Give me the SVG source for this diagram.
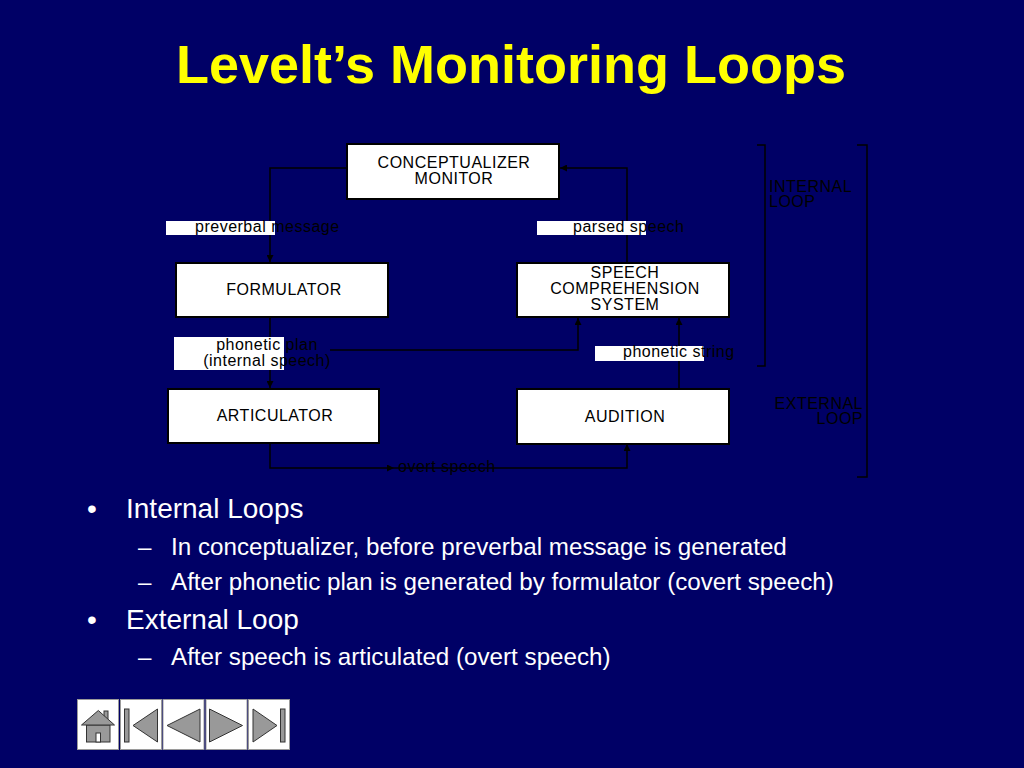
<svg xmlns="http://www.w3.org/2000/svg" width="1024" height="768" viewBox="0 0 1024 768">
<defs>
<style>
.bg{fill:#000066}
.title{font-family:"Liberation Sans",Arial,sans-serif;font-weight:bold;font-size:54px;fill:#ffff00}
.box{fill:#ffffff;stroke:#000000;stroke-width:2}
.bt{font-family:"Liberation Sans",Arial,sans-serif;font-size:16px;letter-spacing:0.5px;fill:#000000;text-anchor:middle}
.lbl{font-family:"Liberation Sans",Arial,sans-serif;font-size:16px;letter-spacing:0.5px;fill:#000000}
.lblbg{fill:#ffffff}
.ln{fill:none;stroke:#000000;stroke-width:1.5}
.br{fill:none;stroke:#000000;stroke-width:1.5}
.b1{font-family:"Liberation Sans",Arial,sans-serif;font-size:28px;fill:#ffffff}
.b2{font-family:"Liberation Sans",Arial,sans-serif;font-size:24.2px;fill:#ffffff}
.nav{fill:#ffffff;stroke:#9a9a9a;stroke-width:1}
.ico{fill:#999999;stroke:#333333;stroke-width:1}
</style>
<marker id="ah" viewBox="0 0 8 8" refX="8" refY="4" markerWidth="7" markerHeight="7" markerUnits="userSpaceOnUse" orient="auto">
<path d="M0,0 L8,4 L0,8 Z" fill="#000000"/>
</marker>
</defs>
<rect class="bg" x="0" y="0" width="1024" height="768"/>
<text class="title" x="511" y="83" text-anchor="middle">Levelt’s Monitoring Loops</text>

<g id="connectors">
<path class="ln" d="M347,168 H270 V262" marker-end="url(#ah)"/>
<path class="ln" d="M627,263 V168 H560" marker-end="url(#ah)"/>
<path class="ln" d="M270,317 V388" marker-end="url(#ah)"/>
<path class="ln" d="M330,350 H578 V318" marker-end="url(#ah)"/>
<path class="ln" d="M679,389 V318" marker-end="url(#ah)"/>
<path class="ln" d="M270,443 V468 H394" marker-end="url(#ah)"/>
<path class="ln" d="M394,468 H627 V444" marker-end="url(#ah)"/>
</g>

<g id="labels">
<rect class="lblbg" x="166" y="221" width="109" height="14"/>
<text class="lbl" x="195" y="232">preverbal message</text>
<rect class="lblbg" x="537" y="221" width="109" height="14"/>
<text class="lbl" x="573" y="232">parsed speech</text>
<rect class="lblbg" x="174" y="337" width="110" height="33"/>
<text class="lbl" x="267" y="350" text-anchor="middle">phonetic plan</text>
<text class="lbl" x="267" y="366" text-anchor="middle">(internal speech)</text>
<rect class="lblbg" x="595" y="346" width="109" height="15"/>
<text class="lbl" x="623" y="357">phonetic string</text>
<text class="lbl" x="398" y="472">overt speech</text>
</g>

<g id="conceptualizer">
<rect class="box" x="347" y="144" width="212" height="55"/>
<text class="bt" x="454" y="168">CONCEPTUALIZER</text>
<text class="bt" x="454" y="184">MONITOR</text>
</g>
<g id="formulator">
<rect class="box" x="176" y="263" width="212" height="54"/>
<text class="bt" x="284" y="295">FORMULATOR</text>
</g>
<g id="speech-comprehension">
<rect class="box" x="517" y="263" width="212" height="54"/>
<text class="bt" x="625" y="278">SPEECH</text>
<text class="bt" x="625" y="294">COMPREHENSION</text>
<text class="bt" x="625" y="310">SYSTEM</text>
</g>
<g id="articulator">
<rect class="box" x="168" y="389" width="211" height="54"/>
<text class="bt" x="275" y="421">ARTICULATOR</text>
</g>
<g id="audition">
<rect class="box" x="517" y="389" width="212" height="55"/>
<text class="bt" x="625" y="422">AUDITION</text>
</g>

<g id="internal-loop">
<path class="br" d="M757,145 H765 V366 H757"/>
<text class="lbl" x="769" y="192">INTERNAL</text>
<text class="lbl" x="769" y="207">LOOP</text>
</g>
<g id="external-loop">
<path class="br" d="M857,145 H867 V477 H857"/>
<text class="lbl" x="863" y="409" text-anchor="end">EXTERNAL</text>
<text class="lbl" x="863" y="424" text-anchor="end">LOOP</text>
</g>

<g id="bullets">
<text class="b1" x="87" y="518">•</text>
<text class="b1" x="126" y="518">Internal Loops</text>
<text class="b2" x="138" y="555">–</text>
<text class="b2" x="171" y="555">In conceptualizer, before preverbal message is generated</text>
<text class="b2" x="138" y="590">–</text>
<text class="b2" x="171" y="590">After phonetic plan is generated by formulator (covert speech)</text>
<text class="b1" x="87" y="629">•</text>
<text class="b1" x="126" y="629">External Loop</text>
<text class="b2" x="138" y="665">–</text>
<text class="b2" x="171" y="665">After speech is articulated (overt speech)</text>
</g>

<g id="navigation">
<rect class="nav" x="77.5" y="699.5" width="41" height="50"/>
<rect class="nav" x="120.5" y="699.5" width="41" height="50"/>
<rect class="nav" x="163" y="699.5" width="41" height="50"/>
<rect class="nav" x="206" y="699.5" width="41" height="50"/>
<rect class="nav" x="248.5" y="699.5" width="41" height="50"/>
<rect class="ico" x="104" y="711" width="4" height="9"/>
<rect class="ico" x="86.5" y="725" width="23.5" height="17"/>
<path class="ico" d="M81.5,725 L98.3,710.5 L114.5,725 Z"/>
<rect fill="#ffffff" stroke="#333333" stroke-width="1" x="96" y="733" width="4.5" height="9"/>
<rect class="ico" x="124.5" y="709" width="4.5" height="33"/>
<path class="ico" d="M133,725.5 L157.5,709 L157.5,742 Z"/>
<path class="ico" d="M167,725.5 L200,709 L200,742 Z"/>
<path class="ico" d="M209.5,709 L242.5,725.5 L209.5,742 Z"/>
<path class="ico" d="M253,709 L277,725.5 L253,742 Z"/>
<rect class="ico" x="280.5" y="709" width="4.5" height="33"/>
</g>
</svg>
